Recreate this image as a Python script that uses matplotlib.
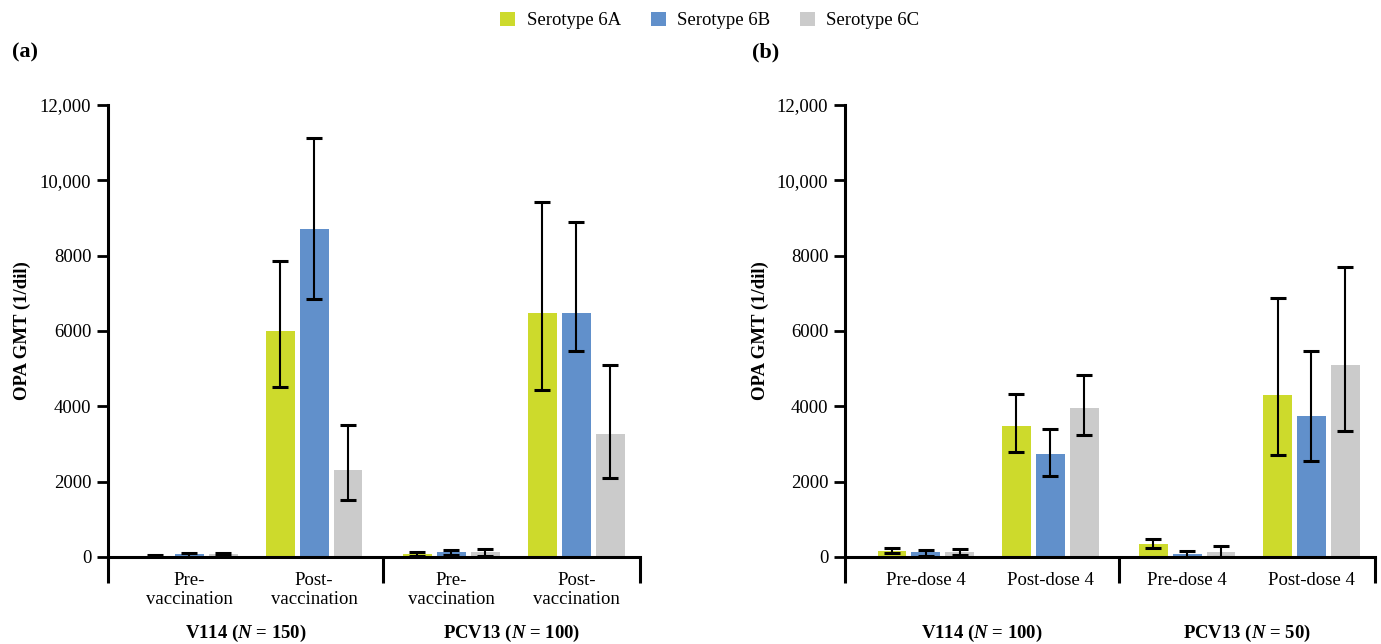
import numpy as np
import matplotlib
matplotlib.use('Agg')
import matplotlib.pyplot as plt
from matplotlib.patches import Patch

plt.rcParams['font.family'] = ['Liberation Serif', 'DejaVu Serif']
plt.rcParams['mathtext.fontset'] = 'custom'
plt.rcParams['mathtext.rm'] = 'Liberation Serif'
plt.rcParams['mathtext.it'] = 'Liberation Serif:italic'
plt.rcParams['mathtext.bf'] = 'Liberation Serif:bold'
plt.rcParams['mathtext.bfit'] = 'Liberation Serif:italic:bold'

# ---------------------------------------------------------------
# data
# ---------------------------------------------------------------
serotypes = ['Serotype 6A', 'Serotype 6B', 'Serotype 6C']
colors = ['#CDDA2C', '#6190CB', '#CBCBCB']

# panel (a)
cats_a = ['Pre-\nvaccination', 'Post-\nvaccination', 'Pre-\nvaccination', 'Post-\nvaccination']
groups_a = ['V114 ($\\mathbfit{N}$ = 150)', 'PCV13 ($\\mathbfit{N}$ = 100)']
gmt_a = {
    'Serotype 6A': [15, 6000, 80, 6475],
    'Serotype 6B': [70, 8705, 140, 6475],
    'Serotype 6C': [70, 2310, 130, 3265],
}
lo_a = {
    'Serotype 6A': [0, 4515, 20, 4435],
    'Serotype 6B': [0, 6850, 60, 5470],
    'Serotype 6C': [30, 1515, 20, 2100],
}
hi_a = {
    'Serotype 6A': [45, 7855, 130, 9420],
    'Serotype 6B': [117, 11120, 190, 8890],
    'Serotype 6C': [117, 3505, 200, 5100],
}

# panel (b)
cats_b = ['Pre-dose 4', 'Post-dose 4', 'Pre-dose 4', 'Post-dose 4']
groups_b = ['V114 ($\\mathbfit{N}$ = 100)', 'PCV13 ($\\mathbfit{N}$ = 50)']
gmt_b = {
    'Serotype 6A': [160, 3480, 345, 4300],
    'Serotype 6B': [133, 2735, 80, 3743],
    'Serotype 6C': [133, 3956, 133, 5097],
}
lo_b = {
    'Serotype 6A': [106, 2796, 248, 2710],
    'Serotype 6B': [27, 2150, 0, 2557],
    'Serotype 6C': [53, 3248, 9, 3353],
}
hi_b = {
    'Serotype 6A': [248, 4327, 487, 6880],
    'Serotype 6B': [195, 3398, 159, 5477],
    'Serotype 6C': [221, 4832, 301, 7705],
}

yticks = [0, 2000, 4000, 6000, 8000, 10000, 12000]
ytlabels = ['0', '2000', '4000', '6000', '8000', '10,000', '12,000']

# ---------------------------------------------------------------
pos = np.array([0, 1, 2.1, 3.1])
xmin, xmid, xmax = -0.65, 1.55, 3.61
bw = 0.232
step = 0.272
fs = 13.5

fig = plt.figure(figsize=(13.81, 6.44), dpi=100)
ax_a = fig.add_axes([0.0782, 0.1351, 0.3852, 0.7019])
ax_b = fig.add_axes([0.6119, 0.1351, 0.3837, 0.7019])


def draw(ax, cats, groups, gmt, lo, hi):
    for i, s in enumerate(serotypes):
        x = pos + (i - 1) * step
        v = np.array(gmt[s])
        err = np.array([v - np.array(lo[s]), np.array(hi[s]) - v])
        ax.bar(x, v, width=bw, color=colors[i], zorder=2)
        ax.errorbar(x, v, yerr=err, fmt='none', ecolor='black',
                    elinewidth=1.5, capsize=6, capthick=2.2, zorder=3)
    ax.set_xlim(xmin, xmax)
    ax.set_ylim(0, 12000)
    ax.set_yticks(yticks)
    ax.set_yticklabels(ytlabels, fontsize=fs)
    ax.tick_params(axis='y', direction='out', length=8, width=2, pad=4)
    # group borders as long ticks under the axis
    ax.set_xticks([xmin, xmid, xmax])
    ax.set_xticklabels(['', '', ''])
    ax.tick_params(axis='x', which='major', direction='out', length=19, width=2.2)
    ax.set_xticks(pos, minor=True)
    ax.set_xticklabels(cats, minor=True, fontsize=fs, linespacing=1.1)
    ax.tick_params(axis='x', which='minor', length=0, pad=11)
    for sp in ['top', 'right']:
        ax.spines[sp].set_visible(False)
    for sp in ['left', 'bottom']:
        ax.spines[sp].set_linewidth(2.2)
    ax.set_ylabel('OPA GMT (1/dil)', fontsize=fs, fontweight='bold', labelpad=6)
    ax.text((xmin + xmid) / 2, -0.17, groups[0], transform=ax.get_xaxis_transform(),
            ha='center', va='center', fontsize=fs, fontweight='bold')
    ax.text((xmid + xmax) / 2, -0.17, groups[1], transform=ax.get_xaxis_transform(),
            ha='center', va='center', fontsize=fs, fontweight='bold')


draw(ax_a, cats_a, groups_a, gmt_a, lo_a, hi_a)
draw(ax_b, cats_b, groups_b, gmt_b, lo_b, hi_b)

fig.text(0.0087, 0.918, '(a)', fontsize=16, fontweight='bold', va='center')
fig.text(0.5445, 0.918, '(b)', fontsize=16, fontweight='bold', va='center')

handles = [Patch(facecolor=c, edgecolor='none') for c in colors]
fig.legend(handles, serotypes, loc='center', bbox_to_anchor=(0.514, 0.968), ncol=3,
           frameon=False, fontsize=fs, handlelength=0.8, handleheight=0.8,
           handletextpad=0.6, columnspacing=1.6)

fig.savefig('out.png', dpi=100)
